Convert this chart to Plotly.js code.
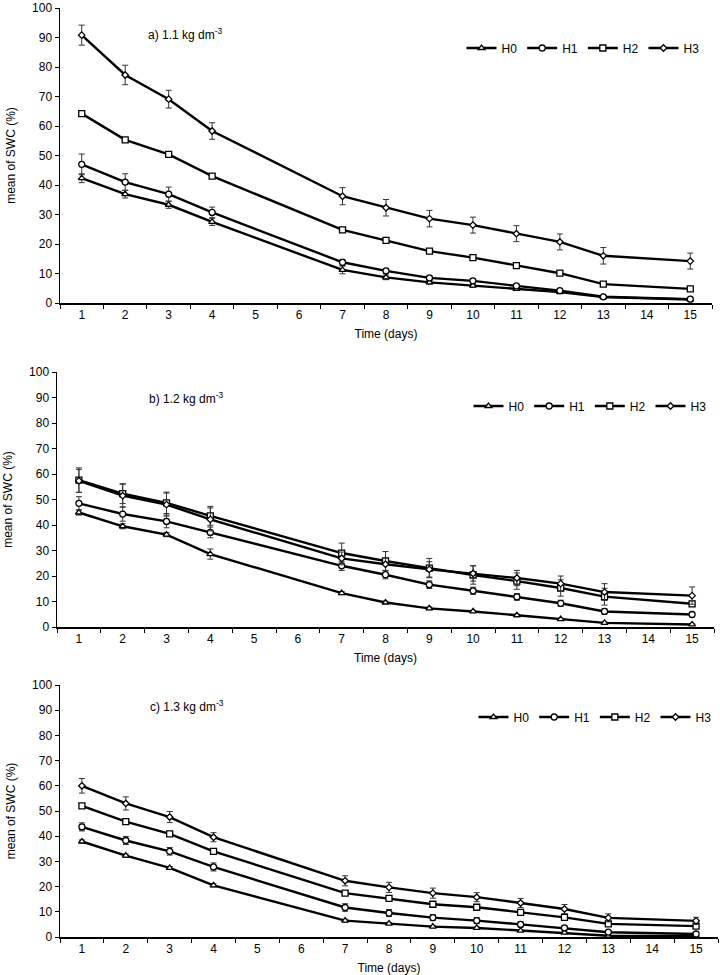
<!DOCTYPE html>
<html>
<head>
<meta charset="utf-8">
<script src="https://cdn.plot.ly/plotly-3.0.1.min.js"></script>
<style>
  html, body { margin: 0; padding: 0; background: #fff; }
  #chart { width: 720px; height: 975px; }
</style>
</head>
<body>
<div id="chart"></div>
<script>
// Soil water content (SWC) over time for four treatments at three bulk densities
const dayLabels = ['1','2','3','4','5','6','7','8','9','10','11','12','13','14','15'];
const days = ['1','2','3','4','7','8','9','10','11','12','13','15'];
const seriesNames = ['H0', 'H1', 'H2', 'H3'];
const panelLabels = ['a) 1.1 kg dm<sup>-3</sup>', 'b) 1.2 kg dm<sup>-3</sup>', 'c) 1.3 kg dm<sup>-3</sup>'];

// a) 1.1 kg dm-3
const a_H0 = [42.3, 36.9, 33.3, 27.5, 11.2, 8.7, 7.0, 5.9, 4.8, 3.7, 2.0, 1.2];
const a_H1 = [47.0, 41.0, 36.9, 30.7, 13.8, 10.9, 8.5, 7.5, 5.8, 4.2, 2.1, 1.3];
const a_H2 = [64.2, 55.3, 50.4, 43.0, 24.8, 21.2, 17.6, 15.4, 12.7, 10.1, 6.4, 4.8];
const a_H3 = [90.8, 77.3, 69.1, 58.3, 36.2, 32.3, 28.6, 26.4, 23.5, 20.7, 16.0, 14.2];
const a_H0_err = [1.5, 1.3, 1.2, 1.2, 1.3, 0.8, 0.6, 0.5, 0.4, 0.4, 0.3, 0.3];
const a_H1_err = [3.5, 2.8, 2.4, 1.8, 1.0, 0.8, 0.7, 0.6, 0.5, 0.4, 0.3, 0.3];
const a_H2_err = [0.6, 0.6, 0.6, 0.6, 0.6, 0.6, 0.6, 0.6, 0.5, 0.5, 0.5, 0.5];
const a_H3_err = [3.4, 3.3, 3.0, 2.8, 2.9, 2.8, 2.8, 2.7, 2.7, 2.7, 2.8, 2.7];

// b) 1.2 kg dm-3
const b_H0 = [44.9, 39.5, 36.2, 28.6, 13.3, 9.6, 7.3, 6.1, 4.6, 3.1, 1.6, 1.0];
const b_H1 = [48.5, 44.3, 41.4, 37.1, 24.0, 20.5, 16.6, 14.2, 11.8, 9.3, 6.1, 4.9];
const b_H2 = [57.6, 52.3, 48.7, 43.6, 29.0, 25.9, 23.1, 20.4, 18.0, 15.3, 11.9, 9.1];
const b_H3 = [57.3, 51.5, 48.0, 42.2, 26.9, 24.6, 22.6, 21.0, 19.2, 17.0, 13.7, 12.3];
const b_H0_err = [1.0, 1.0, 0.8, 2.0, 0.6, 0.5, 0.5, 0.4, 0.4, 0.3, 0.3, 0.2];
const b_H1_err = [2.6, 2.8, 2.5, 2.1, 1.8, 1.6, 1.5, 1.4, 1.3, 1.2, 1.0, 0.9];
const b_H2_err = [4.8, 3.9, 4.2, 3.7, 3.9, 3.7, 3.8, 3.6, 3.2, 3.2, 3.3, 1.0];
const b_H3_err = [4.5, 4.5, 4.5, 4.5, 2.5, 2.5, 3.0, 3.0, 3.0, 3.0, 3.3, 3.4];

// c) 1.3 kg dm-3
const c_H0 = [37.9, 32.3, 27.4, 20.5, 6.5, 5.3, 4.1, 3.6, 2.5, 1.7, 0.5, 0.3];
const c_H1 = [43.7, 38.3, 34.0, 27.8, 11.7, 9.5, 7.7, 6.5, 5.0, 3.6, 1.9, 1.2];
const c_H2 = [52.0, 45.8, 40.9, 34.0, 17.4, 15.3, 13.0, 11.8, 9.8, 7.8, 5.2, 4.3];
const c_H3 = [60.0, 53.0, 47.6, 39.6, 22.3, 19.7, 17.4, 15.8, 13.5, 11.1, 7.6, 6.4];
const c_H0_err = [0.6, 0.6, 0.6, 0.6, 0.5, 0.4, 0.4, 0.3, 0.3, 0.3, 0.2, 0.2];
const c_H1_err = [1.6, 1.6, 1.5, 1.6, 1.5, 1.4, 1.2, 1.2, 1.0, 0.8, 0.6, 0.5];
const c_H2_err = [0.6, 0.6, 0.6, 0.6, 0.6, 0.6, 0.5, 0.5, 0.5, 0.5, 0.5, 0.4];
const c_H3_err = [2.9, 2.6, 2.2, 1.8, 2.0, 2.0, 2.0, 1.8, 1.8, 1.8, 1.6, 1.4];

const panels = [
  { values: [a_H0, a_H1, a_H2, a_H3], errors: [a_H0_err, a_H1_err, a_H2_err, a_H3_err] },
  { values: [b_H0, b_H1, b_H2, b_H3], errors: [b_H0_err, b_H1_err, b_H2_err, b_H3_err] },
  { values: [c_H0, c_H1, c_H2, c_H3], errors: [c_H0_err, c_H1_err, c_H2_err, c_H3_err] }
];

// white-filled markers with black outline
const symbols = ['triangle-up', 'circle', 'square', 'diamond'];
const symbolSizes = [6, 6, 6, 5];
const FONT = 'Arial, "Liberation Sans", sans-serif';

const traces = [];
panels.forEach((p, pi) => {
  const sfx = pi === 0 ? '' : String(pi + 1);
  seriesNames.forEach((name, si) => {
    traces.push({
      type: 'scatter',
      mode: 'lines+markers',
      name: name,
      x: days,
      y: p.values[si],
      xaxis: 'x' + sfx,
      yaxis: 'y' + sfx,
      legend: 'legend' + sfx,
      line: { color: '#000', width: 2.4 },
      marker: { symbol: symbols[si], size: symbolSizes[si], color: '#fff',
                line: { color: '#000', width: 1.3 } },
      error_y: { type: 'data', array: p.errors[si], visible: true,
                 color: '#333', thickness: 1, width: 3 },
      hoverinfo: 'x+y+name'
    });
  });
});

// Plot areas in pixels: [left, right, top, bottom]
const W = 720, H = 975;
const boxes = [
  [60, 712, 8, 303],
  [57, 714, 372, 627],
  [60, 718, 685, 937]
];

function xAxisDef(box, anchor) {
  return {
    domain: [box[0] / W, box[1] / W],
    anchor: anchor,
    type: 'category',
    categoryorder: 'array',
    categoryarray: dayLabels,
    range: [-0.5, 14.5],
    tickson: 'boundaries',
    ticks: 'outside',
    ticklen: 4,
    tickwidth: 1,
    tickcolor: '#000',
    showline: true,
    linecolor: '#000',
    linewidth: 1.5,
    showgrid: false,
    zeroline: false,
    tickfont: { family: FONT, size: 12, color: '#000' },
    title: { text: 'Time (days)', font: { family: FONT, size: 12, color: '#000' }, standoff: 8 }
  };
}
function yAxisDef(box, anchor) {
  return {
    domain: [1 - box[3] / H, 1 - box[2] / H],
    anchor: anchor,
    range: [0, 100],
    dtick: 10,
    ticks: 'outside',
    ticklen: 4,
    tickwidth: 1,
    tickcolor: '#000',
    ticklabeloverflow: 'allow',
    showline: true,
    linecolor: '#000',
    linewidth: 1.5,
    showgrid: false,
    zeroline: false,
    tickfont: { family: FONT, size: 12, color: '#000' },
    title: { text: 'mean of SWC (%)', font: { family: FONT, size: 12, color: '#000' }, standoff: 14 }
  };
}

function legendDef(cx, cy) {
  return {
    orientation: 'h',
    x: cx / W, y: 1 - cy / H,
    xanchor: 'center', yanchor: 'middle',
    font: { family: FONT, size: 12, color: '#000' },
    itemwidth: 30,
    bgcolor: 'rgba(0,0,0,0)',
    tracegroupgap: 0
  };
}

const annoPos = [[146, 34], [147, 398], [148, 706]];

const layout = {
  width: W, height: H,
  margin: { l: 0, r: 0, t: 0, b: 0 },
  paper_bgcolor: '#fff',
  plot_bgcolor: '#fff',
  font: { family: FONT, color: '#000' },
  showlegend: true,
  xaxis: xAxisDef(boxes[0], 'y'),
  yaxis: yAxisDef(boxes[0], 'x'),
  xaxis2: xAxisDef(boxes[1], 'y2'),
  yaxis2: yAxisDef(boxes[1], 'x2'),
  xaxis3: xAxisDef(boxes[2], 'y3'),
  yaxis3: yAxisDef(boxes[2], 'x3'),
  legend: legendDef(583, 48),
  legend2: legendDef(590, 406),
  legend3: legendDef(595, 717),
  annotations: panelLabels.map((t, i) => ({
    text: t, xref: 'paper', yref: 'paper',
    x: annoPos[i][0] / W, y: 1 - annoPos[i][1] / H,
    xanchor: 'left', yanchor: 'middle', showarrow: false,
    font: { family: FONT, size: 12, color: '#000' }
  }))
};

Plotly.newPlot('chart', traces, layout, { displayModeBar: false, staticPlot: true });
</script>
</body>
</html>
